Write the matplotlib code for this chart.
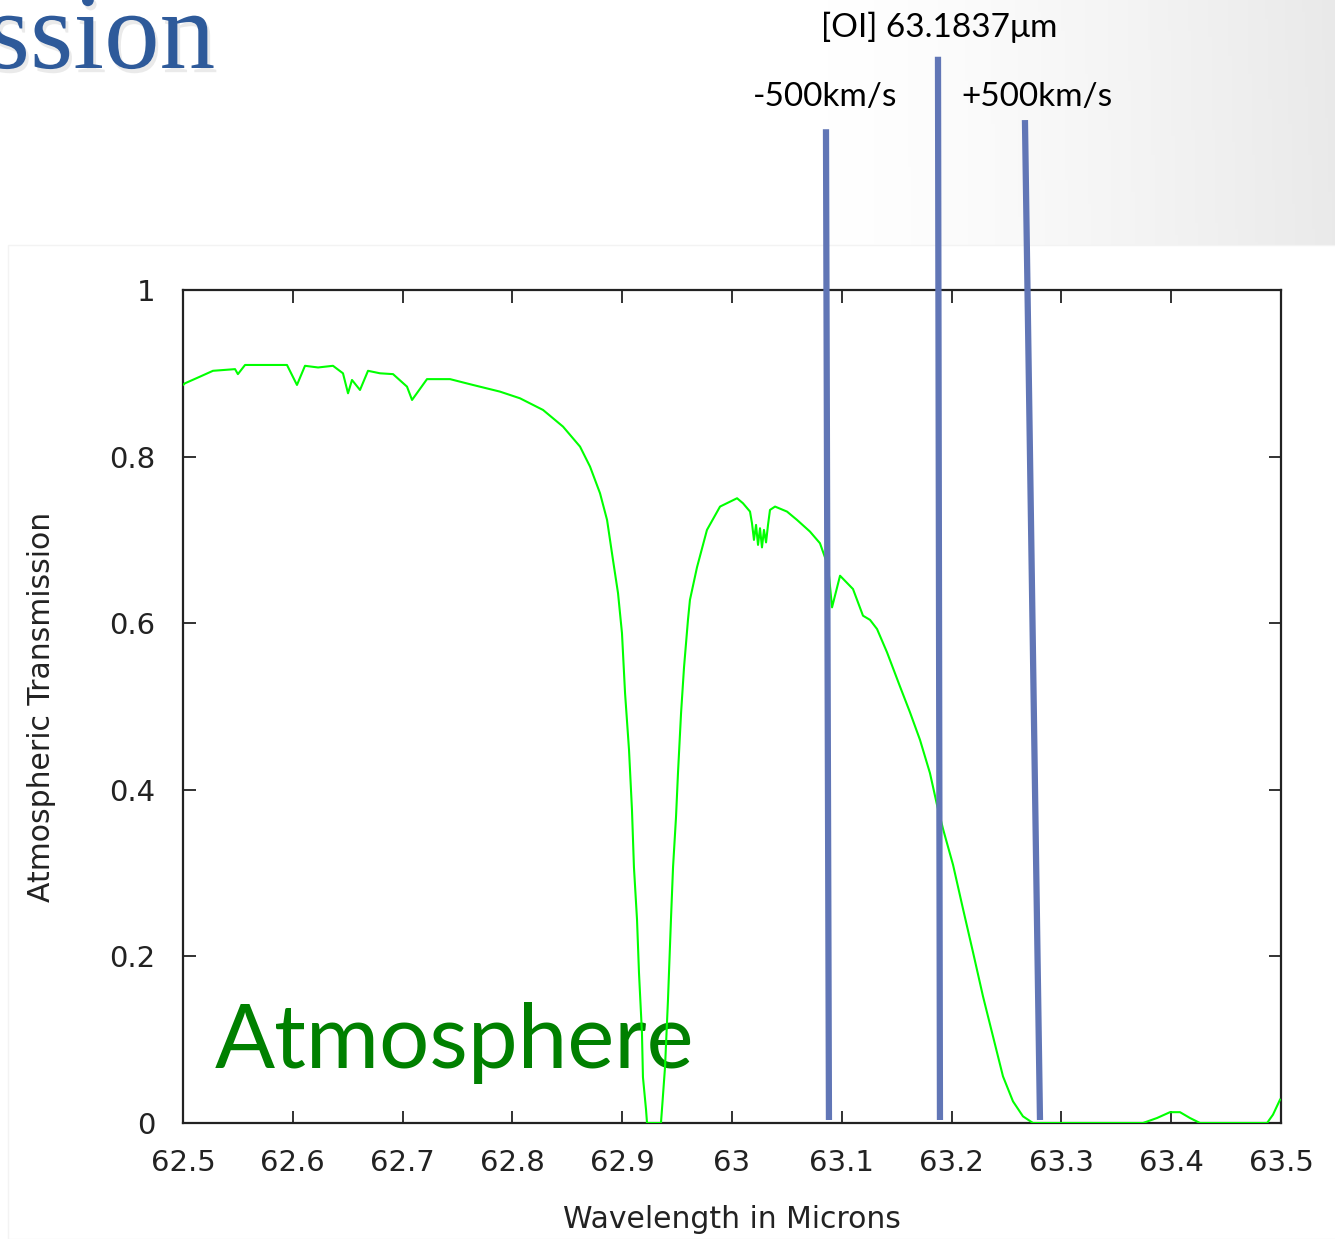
import numpy as np
import matplotlib
matplotlib.use("Agg")
import matplotlib.pyplot as plt
import matplotlib.patheffects as pe
from matplotlib.patches import Rectangle

# wavelength (microns) and atmospheric transmission
wave = [62.500, 62.5018, 62.5155, 62.5273, 62.5474, 62.5500, 62.5565, 62.5947,
        62.6038, 62.6111, 62.6230, 62.6366, 62.6457, 62.6503, 62.6539, 62.6612,
        62.6685, 62.6794, 62.6913, 62.7040, 62.7086, 62.7222, 62.7432, 62.7641,
        62.7887, 62.8069, 62.8279, 62.8461, 62.8616, 62.8707, 62.8798, 62.8862,
        62.8916, 62.8962, 62.8998, 62.9026, 62.9062, 62.9089, 62.9107, 62.9135,
        62.9153, 62.9180, 62.9189, 62.9217, 62.9226, 62.9353, 62.9362, 62.9390,
        62.9417, 62.9444, 62.9463, 62.9490, 62.9508, 62.9536, 62.9563, 62.9599,
        62.9617, 62.9681, 62.9772, 62.9891, 63.0046, 63.0100, 63.0164, 63.0182,
        63.0200, 63.0219, 63.0237, 63.0255, 63.0273, 63.0291, 63.0310, 63.0328,
        63.0346, 63.0392, 63.0501, 63.0592, 63.0710, 63.0801, 63.0847, 63.0874,
        63.0911, 63.0984, 63.1102, 63.1193, 63.1257, 63.1321, 63.1412, 63.1530,
        63.1621, 63.1712, 63.1803, 63.1867, 63.1922, 63.2013, 63.2104, 63.2195,
        63.2286, 63.2377, 63.2468, 63.2559, 63.2650, 63.2741, 63.3743, 63.3871,
        63.3989, 63.4080, 63.4171, 63.4262, 63.4873, 63.4927, 63.4991]
trans = [0.886, 0.888, 0.896, 0.903, 0.905, 0.899, 0.910, 0.910,
         0.886, 0.909, 0.907, 0.909, 0.900, 0.876, 0.892, 0.880,
         0.903, 0.900, 0.899, 0.884, 0.868, 0.893, 0.893, 0.886,
         0.878, 0.870, 0.856, 0.836, 0.812, 0.788, 0.756, 0.724,
         0.676, 0.636, 0.588, 0.516, 0.448, 0.376, 0.307, 0.244,
         0.180, 0.108, 0.055, 0.016, 0.000, 0.000, 0.016, 0.067,
         0.148, 0.244, 0.307, 0.367, 0.420, 0.492, 0.547, 0.604,
         0.628, 0.667, 0.712, 0.740, 0.750, 0.744, 0.734, 0.720,
         0.700, 0.718, 0.694, 0.714, 0.691, 0.712, 0.697, 0.718,
         0.736, 0.740, 0.734, 0.724, 0.710, 0.696, 0.679, 0.670,
         0.619, 0.657, 0.641, 0.609, 0.604, 0.593, 0.565, 0.524,
         0.493, 0.460, 0.420, 0.382, 0.353, 0.310, 0.257, 0.205,
         0.152, 0.104, 0.056, 0.026, 0.008, 0.000, 0.000, 0.006,
         0.013, 0.013, 0.006, 0.000, 0.000, 0.010, 0.028]

# hand-drawn marker lines: (x at top, x at bottom, y top, y bottom)
marker_x_top = [63.0856, 63.1876, 63.2668]
marker_x_bot = [63.0883, 63.1894, 63.2805]
marker_y_top = [1.193, 1.280, 1.204]
marker_y_bot = [0.0036, 0.0036, 0.0036]
marker_labels = ["-500km/s", "[OI] 63.1837μm", "+500km/s"]

xticks = [62.5, 62.6, 62.7, 62.8, 62.9, 63.0, 63.1, 63.2, 63.3, 63.4, 63.5]
xlabels = ["62.5", "62.6", "62.7", "62.8", "62.9", "63", "63.1", "63.2", "63.3", "63.4", "63.5"]
yticks = [0, 0.2, 0.4, 0.6, 0.8, 1]
ylabels = ["0", "0.2", "0.4", "0.6", "0.8", "1"]

W, H = 1335, 1239
fig = plt.figure(figsize=(W / 100, H / 100), dpi=100)

# slide background with grey gradient towards the top right
bg = fig.add_axes([0, 0, 1, 1], zorder=-10)
gx = np.linspace(0, 1, 400)
gy = np.linspace(0, 1, 200)
GX, GY = np.meshgrid(gx, gy)
shade = 1 - 0.085 * np.clip((GX - 0.62) / 0.38, 0, 1) ** 1.3 * (0.85 + 0.15 * GY)
bg.imshow(np.dstack([shade] * 3), extent=[0, 1, 0, 1], aspect="auto", origin="lower")
bg.add_patch(Rectangle((8 / W, 0), 1, 1 - 245 / H, facecolor="white",
                       edgecolor="#f3f3f3", lw=1))
bg.set_xlim(0, 1)
bg.set_ylim(0, 1)
bg.axis("off")

ax = fig.add_axes([183 / W, 1 - 1123 / H, 1098 / W, 833 / H])
ax.set_facecolor("none")
ax.plot(wave, trans, color="#00ff00", lw=1.5, zorder=3)
ax.set_xlim(62.5, 63.5)
ax.set_ylim(0, 1)

ax.set_xticks(xticks)
ax.set_xticklabels(xlabels)
ax.set_yticks(yticks)
ax.set_yticklabels(ylabels)
ax.tick_params(direction="in", length=9, width=1.3, top=True, right=True,
               labelsize=21, labelcolor="#222222", color="#222222")
ax.tick_params(axis="x", pad=19)
ax.tick_params(axis="y", pad=20)
for s in ax.spines.values():
    s.set_linewidth(1.6)
    s.set_color("#222222")
ax.set_xlabel("Wavelength in Microns", fontsize=21.5, color="#222222", labelpad=20)
ax.set_ylabel("Atmospheric Transmission", fontsize=21.5, color="#222222", labelpad=38)

for xt, xb, yt, yb in zip(marker_x_top, marker_x_bot, marker_y_top, marker_y_bot):
    ax.plot([xt, xb], [yt, yb], color="#6176b6", lw=4.5, clip_on=False,
            solid_capstyle="butt", zorder=5)

ax.text(62.529, 0.066, "Atmosphere", fontsize=64, color="#008000",
        family="Lato", va="baseline", ha="left", zorder=2)

fig.text(825 / W, 1 - 106 / H, marker_labels[0], fontsize=24, family="Lato",
         ha="center", va="baseline")
fig.text(939 / W, 1 - 37 / H, marker_labels[1], fontsize=24, family="Lato",
         ha="center", va="baseline")
fig.text(1037 / W, 1 - 106 / H, marker_labels[2], fontsize=24, family="Lato",
         ha="center", va="baseline")

fig.text(215 / W, 1 - 68 / H, "ssion", fontsize=80, family="Liberation Serif",
         color="#2e5a9a", ha="right", va="baseline",
         path_effects=[pe.withSimplePatchShadow(offset=(2, -3), shadow_rgbFace="#999999", alpha=0.2)])

fig.savefig("out.png", dpi=100)
